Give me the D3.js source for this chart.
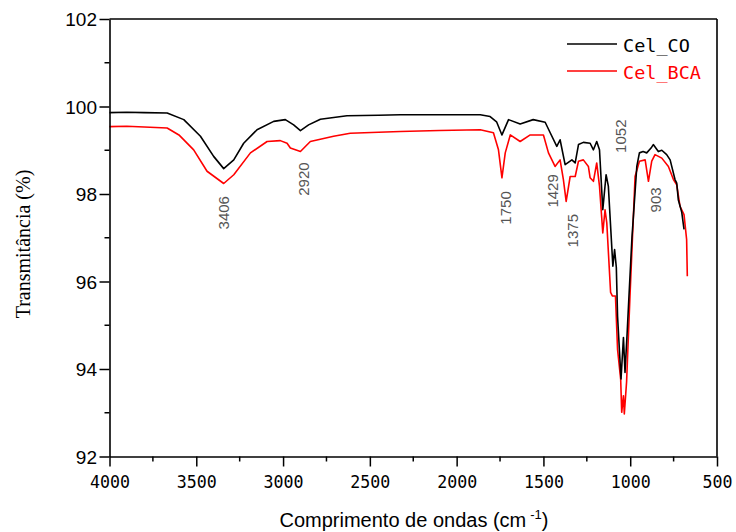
<!DOCTYPE html>
<html>
<head>
<meta charset="utf-8">
<script src="https://cdn.jsdelivr.net/npm/d3@7"></script>
<style>
  html, body { margin: 0; padding: 0; background: #fff; }
  svg { display: block; }
</style>
</head>
<body>
<svg id="chart" width="736" height="532"></svg>
<script>
// ---- data (wavenumber cm^-1, transmittance %) ----
const celCO_wn = [4000,3900,3800,3668,3572,3476,3400,3342,3284,3227,3150,3054,2987,2939,2900,2853,2785,2632,2450,2325,2100,1864,1807,1770,1739,1701,1634,1559,1490,1461,1423,1404,1375,1336,1317,1298,1270,1231,1212,1193,1177,1158,1139,1126,1100,1090,1080,1073,1053,1039,1030,1018,1008,990,962,947,926,905,880,867,838,818,790,770,742,732,723,703,690];
const celCO_t  = [99.86,99.87,99.86,99.85,99.70,99.32,98.86,98.58,98.78,99.16,99.47,99.66,99.70,99.58,99.45,99.58,99.71,99.79,99.80,99.81,99.81,99.81,99.77,99.65,99.35,99.70,99.60,99.70,99.64,99.40,99.09,99.24,98.67,98.78,98.71,99.13,99.18,99.16,99.01,99.20,99.01,97.64,98.44,98.18,96.35,96.73,96.32,95.21,93.77,94.72,93.92,94.80,95.60,97.00,98.63,98.94,98.97,98.94,99.05,99.13,98.97,99.00,98.90,98.78,98.33,98.25,97.87,97.58,97.19];

const celBCA_wn = [4000,3900,3800,3668,3600,3515,3438,3342,3284,3188,3092,3016,2977,2958,2900,2843,2709,2613,2450,2325,2100,1864,1788,1759,1739,1720,1691,1634,1576,1500,1471,1433,1404,1385,1369,1346,1317,1298,1270,1241,1231,1212,1193,1177,1158,1145,1135,1113,1103,1085,1073,1055,1049,1039,1034,1021,1002,972,947,914,895,876,857,818,780,751,732,713,690,675,671];
const celBCA_t  = [99.54,99.55,99.53,99.51,99.35,99.01,98.52,98.24,98.44,98.94,99.20,99.22,99.16,99.05,98.97,99.20,99.32,99.39,99.41,99.43,99.45,99.47,99.40,99.01,98.37,98.94,99.35,99.20,99.35,99.35,98.94,98.63,98.78,98.33,97.83,98.40,98.40,98.75,98.78,98.63,98.37,98.29,98.71,98.18,97.11,97.64,97.34,95.75,95.67,95.67,94.45,93.77,93.01,93.39,92.97,93.70,95.60,98.40,98.75,98.78,98.29,98.75,98.90,98.82,98.63,98.33,98.21,97.72,97.53,96.96,96.12];

const seriesNames = ["Cel_CO", "Cel_BCA"];
const seriesColors = ["#000000", "#ff0000"];

const xTicks = [4000,3500,3000,2500,2000,1500,1000,500];
const xMinorTicks = [3750,3250,2750,2250,1750,1250,750];
const yTicks = [92,94,96,98,100,102];
const yMinorTicks = [93,95,97,99,101];

// peak annotations: label, wavenumber position, transmittance position (bottom of rotated text)
const peakLabels = ["3406","2920","1750","1429","1375","1052","903"];
const peakWn     = [3346, 2885, 1720, 1446, 1331, 1058, 857];
const peakT      = [97.19, 97.96, 97.30, 97.69, 96.78, 98.94, 97.58];

// ---- layout ----
const svg = d3.select("#chart");
const L = 109.5, R = 717, T = 19, B = 456.5;

const x = d3.scaleLinear().domain([4000, 500]).range([L, R]);
const y = d3.scaleLinear().domain([92, 102]).range([B, T]);

// series
const series = [
  celCO_wn.map((w, i) => [w, celCO_t[i]]),
  celBCA_wn.map((w, i) => [w, celBCA_t[i]])
];
const line = d3.line().x(d => x(d[0])).y(d => y(d[1]));

svg.append("g").selectAll("path")
  .data([1, 0])
  .join("path")
  .attr("d", k => line(series[k]))
  .attr("fill", "none")
  .attr("stroke", k => seriesColors[k])
  .attr("stroke-width", 1.6)
  .attr("stroke-linejoin", "round");

// frame (top, right)
svg.append("line").attr("x1", L).attr("x2", R).attr("y1", T).attr("y2", T)
  .attr("stroke", "#000").attr("stroke-width", 1.6);
svg.append("line").attr("x1", R).attr("x2", R).attr("y1", T).attr("y2", B)
  .attr("stroke", "#000").attr("stroke-width", 1.6);

// x axis
const xAxis = svg.append("g").attr("transform", `translate(0,${B})`)
  .call(d3.axisBottom(x).tickValues(xTicks).tickSize(10).tickSizeOuter(0).tickFormat(d3.format("d")));
xAxis.select(".domain").attr("stroke-width", 1.6);
xAxis.selectAll(".tick line").attr("stroke-width", 1.5);
xAxis.selectAll(".tick text")
  .attr("font-family", "DejaVu Sans Mono, monospace")
  .attr("font-size", 18)
  .attr("fill", "#000")
  .attr("y", 31)
  .attr("dy", 0)
  .attr("textLength", d => String(d).length * 10)
  .attr("lengthAdjust", "spacingAndGlyphs");
svg.append("g").attr("transform", `translate(0,${B})`)
  .selectAll("line").data(xMinorTicks).join("line")
  .attr("x1", d => x(d)).attr("x2", d => x(d))
  .attr("y1", 0).attr("y2", 5)
  .attr("stroke", "#000").attr("stroke-width", 1.5);

// y axis
const yAxis = svg.append("g").attr("transform", `translate(${L},0)`)
  .call(d3.axisLeft(y).tickValues(yTicks).tickSize(10).tickSizeOuter(0).tickFormat(d3.format("d")));
yAxis.select(".domain").attr("stroke-width", 1.6);
yAxis.selectAll(".tick line").attr("stroke-width", 1.5);
yAxis.selectAll(".tick text")
  .attr("font-family", "Liberation Sans, Arial, sans-serif")
  .attr("font-size", 19)
  .attr("fill", "#000")
  .attr("x", -12.5)
  .attr("dy", "0.36em");
svg.append("g").attr("transform", `translate(${L},0)`)
  .selectAll("line").data(yMinorTicks).join("line")
  .attr("x1", -5).attr("x2", 0)
  .attr("y1", d => y(d)).attr("y2", d => y(d))
  .attr("stroke", "#000").attr("stroke-width", 1.5);

// axis titles
const xt = svg.append("text")
  .attr("x", 414).attr("y", 526.5)
  .attr("text-anchor", "middle")
  .attr("font-family", "Liberation Sans Narrow, Liberation Sans, Arial, sans-serif")
  .attr("font-size", 20)
  .attr("fill", "#000");
xt.append("tspan").text("Comprimento de ondas (cm");
xt.append("tspan").attr("dy", -8).attr("dx", 4).attr("font-size", 13).text("-1");
xt.append("tspan").attr("dy", 8).text(")");

svg.append("text")
  .attr("transform", "translate(30,244) rotate(-90)")
  .attr("text-anchor", "middle")
  .attr("font-family", "Liberation Serif, Times New Roman, serif")
  .attr("font-size", 20)
  .attr("fill", "#000")
  .text("Transmitância (%)");

// peak annotations
svg.append("g").selectAll("text")
  .data(peakLabels)
  .join("text")
  .attr("transform", (d, i) => `translate(${x(peakWn[i]) + 5.5},${y(peakT[i])}) rotate(-90)`)
  .attr("text-anchor", "start")
  .attr("font-family", "Liberation Sans, Arial, sans-serif")
  .attr("font-size", 15)
  .attr("fill", "#555")
  .text(d => d);

// legend
const legend = svg.append("g");
const legRows = legend.selectAll("g").data(seriesNames).join("g")
  .attr("transform", (d, i) => `translate(0,${44 + i * 27})`);
legRows.append("line")
  .attr("x1", 567).attr("x2", 617).attr("y1", 0).attr("y2", 0)
  .attr("stroke", (d, i) => seriesColors[i]).attr("stroke-width", 1.6);
legRows.append("text")
  .attr("x", 623).attr("y", 7.5)
  .attr("font-family", "DejaVu Sans Mono, monospace")
  .attr("font-size", 18.5)
  .attr("fill", (d, i) => seriesColors[i])
  .text(d => d);
</script>
</body>
</html>
